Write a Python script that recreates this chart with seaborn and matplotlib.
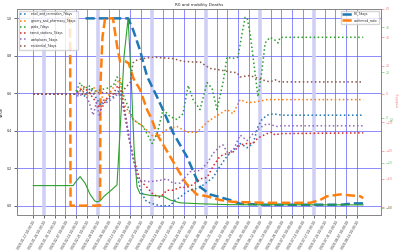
import numpy as np
import pandas as pd
import matplotlib
matplotlib.use("Agg")
import matplotlib.pyplot as plt
import seaborn as sns

START = pd.Timestamp("2020-01-17")

# ---- data (day offsets from 2020-01-17) ----
r0_days = [34, 61.6, 64.8, 69.3, 73.9, 80.4, 84.3, 90.7, 99.8, 108.2, 114.7, 127.7, 134.2, 150, 180, 200, 208, 214]
r0_vals = [1.0, 1.0, 0.94, 0.83, 0.69, 0.58, 0.51, 0.39, 0.26, 0.10, 0.06, 0.03, 0.01, 0.005, 0.005, 0.005, 0.012, 0.012]

conf_days = [22, 24, 24.3, 43.4, 43.7, 45, 46.7, 51.8, 54.5, 56.4, 60, 62, 65, 69.3, 74, 77, 80.4, 89,
             99, 106, 112.8, 121.2, 129.6, 150, 179.5, 186, 190.5, 199, 205.4, 212, 214]
conf_vals = [1.0, 1.0, 0.0, 0.0, 0.65, 0.9, 1.0, 1.0, 0.85, 0.77, 0.77, 0.76, 0.68, 0.62, 0.51, 0.46, 0.38, 0.26,
             0.12, 0.06, 0.05, 0.03, 0.02, 0.015, 0.015, 0.03, 0.05, 0.06, 0.055, 0.05, 0.04]

deaths_days = [0, 26, 27.9, 30.5, 33.7, 37, 40, 41.5, 43.4, 46, 51, 53, 54.4, 56.4, 59, 61.6, 63.5, 65.5, 67.4,
               69.3, 75.8, 84.3, 88.8, 95.3, 108, 128, 214]
deaths_vals = [0.107, 0.107, 0.13, 0.155, 0.12, 0.06, 0.025, 0.02, 0.025, 0.05, 0.085, 0.1, 0.11, 0.4, 0.8, 1.0, 0.7, 0.3, 0.1,
               0.065, 0.055, 0.05, 0.03, 0.015, 0.01, 0.005, 0.004]

retail_days = [0, 27, 30, 33, 37, 41, 44, 48, 52, 55, 56.4, 59.6, 62.9, 66.1, 69.3, 72.6, 75.8, 82.3, 88.8, 92, 95.3,
               98.5, 101.7, 108.2, 116.7, 121.2, 125.7, 129.6, 134.2, 138.7, 142.6, 145.8, 148.4, 151.7, 155.5, 161.4, 214]
retail_vals = [0, 0, 3, -2, 4, -3, -8, -4, -2, 2, 0, -13, -35, -52, -66, -75, -77, -79, -79, -75, -73,
               -70, -68, -66, -59, -51, -44, -40, -35, -38, -35, -23, -18, -15, -14, -15, -15]

grocery_days = [0, 27, 31, 35, 39, 43, 47, 51, 54.5, 56.4, 58.3, 64.8, 71.3, 77.8, 82.3, 86.8, 93.3, 99.8, 106.3,
                112.8, 116.7, 121.2, 125.7, 129.6, 134.2, 138.7, 142.6, 147.1, 151.7, 214]
grocery_vals = [0, 0, 4, -2, 5, 0, -5, 3, 8, 11, -6, -18, -23, -30, -29, -25, -23, -27, -27,
                -20, -17, -14, -11, -14, -4, -6, -6, -5, -4, -4]

parks_days = [0, 27, 30.5, 33, 36, 40, 44, 48, 52, 54.4, 57, 58.3, 64.8, 71.3, 77.2, 80.4, 84.3, 88.8, 93.3, 97.2,
              100.5, 103.7, 108.2, 112.8, 116, 119.2, 123.1, 125.7, 129, 132.8, 135.5, 137.4, 138.7, 140.6, 142.6,
              145.2, 145.8, 148.4, 150.4, 153.6, 156.8, 158.8, 160.1, 214]
parks_vals = [0, 0, 8, 3, 6, 2, 3, 4, 6, 12, 8, 0, -18, -23, -35, -28, -11, -16, -18, -14,
              6, -4, -11, 8, 4, -11, 8, 26, 25, 26, 43, 54, 54, 43, 26,
              3, -2, 17, 36, 40, 38, 36, 40, 40]

transit_days = [0, 27, 30, 33, 37, 41, 44, 48, 52, 55, 57, 58.3, 61.6, 64.8, 69.3, 73.9, 77.8, 82.3, 86.8, 90.7,
                95.3, 99.8, 103.7, 108.2, 112.8, 116.7, 121.2, 125.7, 129.6, 134.2, 138.7, 142.6, 145.8, 151.7,
                154.9, 156.8, 160.1, 214]
transit_vals = [0, 0, 2, 5, 0, -6, -11, -3, 0, 6, 2, -4, -28, -44, -61, -66, -71, -73, -68, -68,
                -66, -66, -64, -60, -59, -51, -44, -42, -41, -36, -35, -35, -31, -28,
                -27, -29, -28, -27.5]

work_days = [0, 27, 30, 33, 36, 39, 41, 43, 45, 48, 52, 55, 57, 62.9, 67.4, 69.3, 75.8, 82.3, 86.8, 90.7, 95.3,
             101.7, 108.2, 112.8, 116.7, 121.2, 123.1, 125.7, 129.6, 134.2, 138.7, 142.6, 148.4, 151.7, 154.9,
             158.1, 160.1, 214]
work_vals = [0, 0, -2, 2, -5, -15, -6, -16, -4, -6, -3, 0, -2, -35, -59, -61, -62, -61, -60, -63, -63,
             -55, -54, -49, -42, -37, -36, -41, -40, -29, -33, -28, -23, -21, -22,
             -23, -22.5, -22.5]

resid_days = [0, 27, 35, 45, 55, 58, 62.9, 64.8, 67.4, 71.3, 77.8, 84.3, 90.7, 97.2, 103.7, 108.2, 114.7, 121.2,
              127.7, 132.2, 134.2, 140.6, 145.8, 148.4, 153.6, 156.8, 160.1, 214]
resid_vals = [0, 0, 0, 1, 0, 2, 8, 22, 24, 25, 26, 25.5, 25, 23, 22.6, 22.6, 18, 17,
              15.5, 15, 12, 13, 11, 10, 8.5, 10, 8.5, 8.5]

tick_days = list(range(0, 211, 7))
band_days = [7, 42, 77, 112, 147, 182]


def to_dates(days):
    return START + pd.to_timedelta(np.asarray(days, dtype=float), unit="D")


fig = plt.figure(figsize=(4, 2.5), dpi=100)
sns.set_style("ticks")
ax = fig.add_axes([0.0425, 0.14, 0.91, 0.824])
ax2 = ax.twinx()
ax3 = ax.twinx()

TAB = sns.color_palette("tab10")
blue, orange, green, red, purple, brown = TAB[0], TAB[1], TAB[2], TAB[3], TAB[4], TAB[5]

for d in to_dates(band_days):
    ax.axvline(d, color="#cfcff6", lw=2.6, zorder=1)

# left axis: ratios
sns.lineplot(x=to_dates(r0_days), y=r0_vals, ax=ax, color=blue, lw=1.8, linestyle="--")
sns.lineplot(x=to_dates(conf_days), y=conf_vals, ax=ax, color=orange, lw=1.8, linestyle="--")
sns.lineplot(x=to_dates(deaths_days), y=deaths_vals, ax=ax, color=green, lw=0.8)
left_lines = ax.get_lines()[-3:]

# mobility (red right axis)
mob = [("retail_and_recreation_7days", retail_days, retail_vals, blue),
       ("grocery_and_pharmacy_7days", grocery_days, grocery_vals, orange),
       ("parks_7days", parks_days, parks_vals, green),
       ("transit_stations_7days", transit_days, transit_vals, red),
       ("workplaces_7days", work_days, work_vals, purple),
       ("residential_7days", resid_days, resid_vals, brown)]
for name, dd, vv, c in mob:
    sns.lineplot(x=to_dates(dd), y=vv, ax=ax2, color=c, lw=1.1, linestyle=":")
mob_lines = ax2.get_lines()

xmin = START + pd.Timedelta(days=-10.4)
xmax = START + pd.Timedelta(days=225.5)
ax.set_xlim(xmin, xmax)
ax.set_ylim(-0.05, 1.05)
ax.set_yticks([0.0, 0.2, 0.4, 0.6, 0.8, 1.0])
ax.set_yticklabels(["0.0", "0.2", "0.4", "0.6", "0.8", "1.0"])
tick_dates = to_dates(tick_days)
ax.set_xticks(tick_dates)
ax.set_xticklabels([d.strftime("%Y-%m-%d %H:%M:%S") for d in tick_dates], rotation=60, ha="right",
                   rotation_mode="anchor", fontsize=2.2)
ax.grid(True, color="#5a5aff", alpha=0.7, lw=0.7)
ax.tick_params(axis="y", labelsize=2.3, length=2, width=0.5, pad=1.5)
ax.tick_params(axis="x", length=2, width=0.5, pad=1.5)
ax.set_ylabel("Value", fontsize=2.6, labelpad=2)
ax.set_xlabel("")
ax.set_title("R0 and mobility Deaths", fontsize=3.0, pad=2)

ax2.set_ylim(-85.5, 60)
ax2.set_yticks([-80, -60, -40, -20, 0, 20, 40, 60])
ax2.tick_params(axis="y", labelsize=2.3, length=2, width=0.5, pad=1.5, labelcolor="#f28a8a", colors="#f28a8a")
ax2.set_ylabel("mobility", fontsize=2.6, color="#f28a8a", labelpad=4)
ax2.grid(False)

ax3.set_ylim(-43.3, 48.2)
ax3.set_yticks([-40, -20, 0, 20, 40])
ax3.tick_params(axis="y", labelsize=2.3, length=2, width=0.5, pad=1.5, labelcolor="#7cc47c", colors="#7cc47c")
ax3.set_ylabel("R0", fontsize=2.6, color="#7cc47c", labelpad=0)
ax3.yaxis.set_label_coords(1.027, 0.47)
ax2.yaxis.set_label_coords(1.04, 0.56)
ax3.grid(False)

for a in (ax, ax2, ax3):
    for s in a.spines.values():
        s.set_color("#888888")
        s.set_linewidth(0.6)

ax2.legend(mob_lines, [m[0] for m in mob], loc="upper left", fontsize=2.2, frameon=True,
           handlelength=2.5, borderpad=0.6, labelspacing=0.75)
ax3.legend([left_lines[0], left_lines[1]], ["R0_7days", "confirmed_ratio"], loc="upper right",
           fontsize=2.2, handlelength=3, borderpad=0.6, labelspacing=0.5)

fig.savefig("out.png", dpi=100)
